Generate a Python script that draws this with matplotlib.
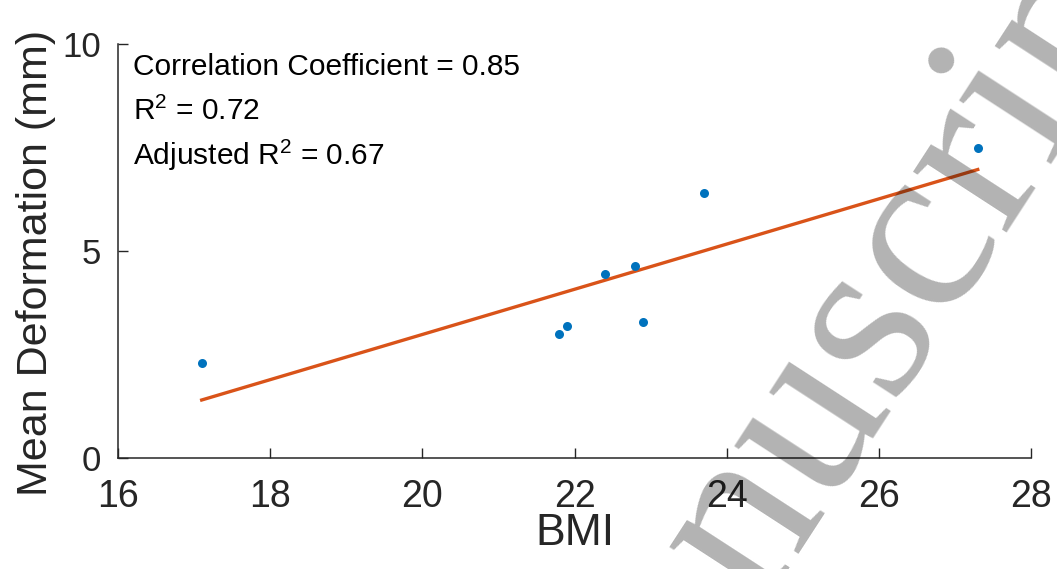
import numpy as np
import matplotlib
matplotlib.use("Agg")
import matplotlib.pyplot as plt
from matplotlib import font_manager

# BMI vs mean deformation
bmi = [17.1, 21.8, 21.9, 22.4, 22.8, 22.9, 23.7, 27.3]
deformation = [2.30, 3.00, 3.19, 4.44, 4.64, 3.28, 6.39, 7.49]

x_ticks = [16, 18, 20, 22, 24, 26, 28]
y_ticks = [0, 5, 10]

stats_lines = [
    'Correlation Coefficient = 0.85',
    r'R$^{2}$ = 0.72',
    r'Adjusted R$^{2}$ = 0.67',
]
watermark = 'Manuscript'

plt.rcParams['font.family'] = ['Liberation Sans', 'DejaVu Sans']
plt.rcParams['mathtext.fontset'] = 'custom'
plt.rcParams['mathtext.rm'] = 'Liberation Sans'
plt.rcParams['mathtext.default'] = 'regular'

axis_col = '#262626'

# the x label in the original looks condensed
names = {f.name for f in font_manager.fontManager.ttflist}
if 'Liberation Sans Narrow' in names:
    xlab_font, xlab_size = 'Liberation Sans Narrow', 38
else:
    xlab_font, xlab_size = 'Liberation Sans', 32

fig = plt.figure(figsize=(10.57, 5.69), dpi=100)
ax = fig.add_axes([118 / 1057, 1 - 458 / 569, 913 / 1057, 414 / 569])

# linear fit of the points
coef = np.polyfit(bmi, deformation, 1)
xs = np.array([min(bmi), max(bmi)])
ax.plot(bmi, deformation, 'o', color='#0072BD', ms=6.5, mec='none', zorder=3)
ax.plot(xs, np.polyval(coef, xs), '-', color='#D95319', lw=2.4, zorder=2)

ax.set_xlim(16, 28)
ax.set_ylim(0, 10)
ax.set_xticks(x_ticks)
ax.set_yticks(y_ticks)

for side in ['top', 'right']:
    ax.spines[side].set_visible(False)
for side in ['left', 'bottom']:
    ax.spines[side].set_color(axis_col)
    ax.spines[side].set_linewidth(1.1)

ax.tick_params(axis='both', direction='in', length=7, width=1.0, color=axis_col,
               labelcolor=axis_col)
ax.tick_params(axis='x', labelsize=27, pad=15)
ax.tick_params(axis='y', labelsize=25, pad=12)

ax.set_xlabel('BMI', fontsize=xlab_size, family=xlab_font, color=axis_col, va='top')
ax.xaxis.set_label_coords(0.5, -0.133)
ax.set_ylabel('Mean Deformation (mm)', fontsize=31, color=axis_col)
ax.yaxis.set_label_coords(-0.068, 0.472)

baselines = [0.925, 0.816, 0.708]
for txt, yb in zip(stats_lines, baselines):
    ax.text(0.016, yb, txt, transform=ax.transAxes, fontsize=21.5,
            va='baseline', ha='left', color='black')

# grey watermark across the right side
fig.text(0.836, 0.274, watermark, fontsize=176, family='Liberation Serif',
         color='black', alpha=0.3, rotation=57, rotation_mode='anchor',
         ha='center', va='baseline', zorder=10)

fig.savefig('out.png', dpi=100)
